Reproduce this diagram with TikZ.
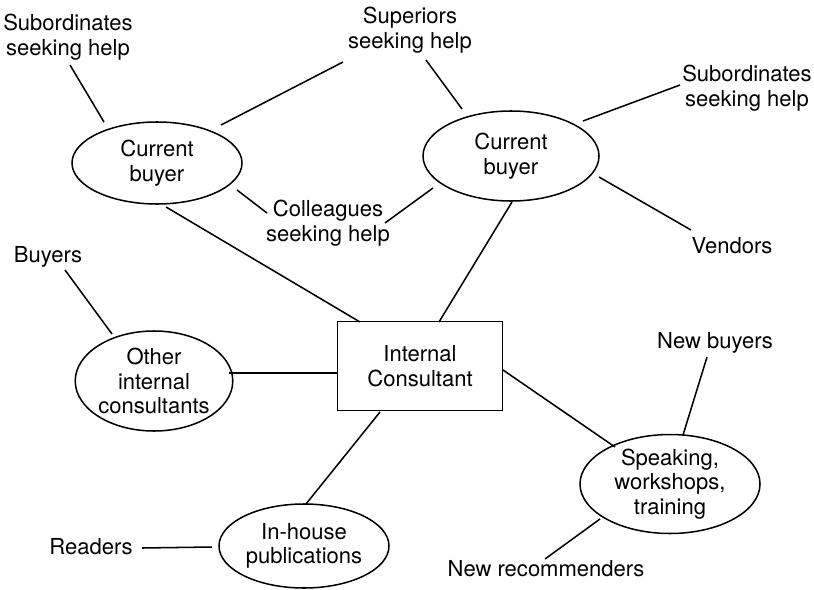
\documentclass[tikz,border=0pt]{standalone}
\usepackage{fontspec}
\setmainfont{TeX Gyre Heros}
\usetikzlibrary{shapes.geometric,calc}
\begin{document}
\begin{tikzpicture}[x=0.03cm,y=-0.03cm,
  every node/.style={font=\fontsize{18.8}{20.8}\selectfont, align=center, inner sep=0pt, outer sep=0pt},
  bubble/.style={draw, ellipse, line width=1.3pt},
  box/.style={draw, rectangle, line width=1.4pt},
  link/.style={line width=1.3pt}]
\useasboundingbox (0,0) rectangle (814,589);
% main nodes
\node[bubble, minimum width=5.1cm, minimum height=2.46cm] (cb1) at (157,163) {Current\\buyer};
\node[bubble, minimum width=5.28cm, minimum height=2.7cm] (cb2) at (511,156) {Current\\buyer};
\node[bubble, minimum width=4.56cm, minimum height=3.0cm] (oic) at (154,381) {Other\\internal\\consultants};
\node[bubble, minimum width=5.1cm, minimum height=2.52cm] (ihp) at (304,546) {In-house\\publications};
\node[bubble, minimum width=5.4cm, minimum height=2.64cm] (spk) at (670,484) {Speaking,\\workshops,\\training};
\node[box, minimum width=4.95cm, minimum height=2.67cm] (ic) at (420,366) {Internal\\Consultant};
% labels
\node (subl) at (68,37) {Subordinates\\seeking help};
\node (sup) at (410,30) {Superiors\\seeking help};
\node (subr) at (747,88) {Subordinates\\seeking help};
\node (col) at (328,223) {Colleagues\\seeking help};
\node (ven) at (732,246) {Vendors};
\node (buy) at (48,257) {Buyers};
\node (rea) at (91,547) {Readers};
\node (nb) at (715,343) {New buyers};
\node (nr) at (546,569) {New recommenders};
% connectors
\draw[link] ($(subl)+(2,28)$) -- ($(cb1)+(-53,-41)$);
\draw[link] ($(sup)+(-67,32)$) -- ($(cb1)+(64,-38)$);
\draw[link] ($(sup)+(16,30)$) -- ($(cb2)+(-49,-47)$);
\draw[link] ($(cb1)+(80,27)$) -- ($(col)+(-61,-10)$);
\draw[link] ($(col)+(57,0)$) -- ($(cb2)+(-78,32)$);
\draw[link] ($(subr)+(-67,-3)$) -- ($(cb2)+(72,-35)$);
\draw[link] ($(cb2)+(88,21)$) -- ($(ven)+(-41,-16)$);
\draw[link] ($(cb2)+(1,46)$) -- ($(ic)+(19,-44)$);
\draw[link] ($(cb1)+(9,44)$) -- ($(ic)+(-60,-44)$);
\draw[link] ($(buy)+(17,13)$) -- ($(oic)+(-42,-47)$);
\draw[link] ($(oic)+(75,-8)$) -- ($(ic)+(-83,7)$);
\draw[link] ($(ic)+(-40,46)$) -- ($(ihp)+(2,-42)$);
\draw[link] ($(rea)+(51,1)$) -- ($(ihp)+(-92,1)$);
\draw[link] ($(ic)+(83,4)$) -- ($(spk)+(-55,-37)$);
\draw[link] ($(nb)+(-8,14)$) -- ($(spk)+(13,-49)$);
\draw[link] ($(spk)+(-70,35)$) -- ($(nr)+(-1,-10)$);
\end{tikzpicture}
\end{document}
